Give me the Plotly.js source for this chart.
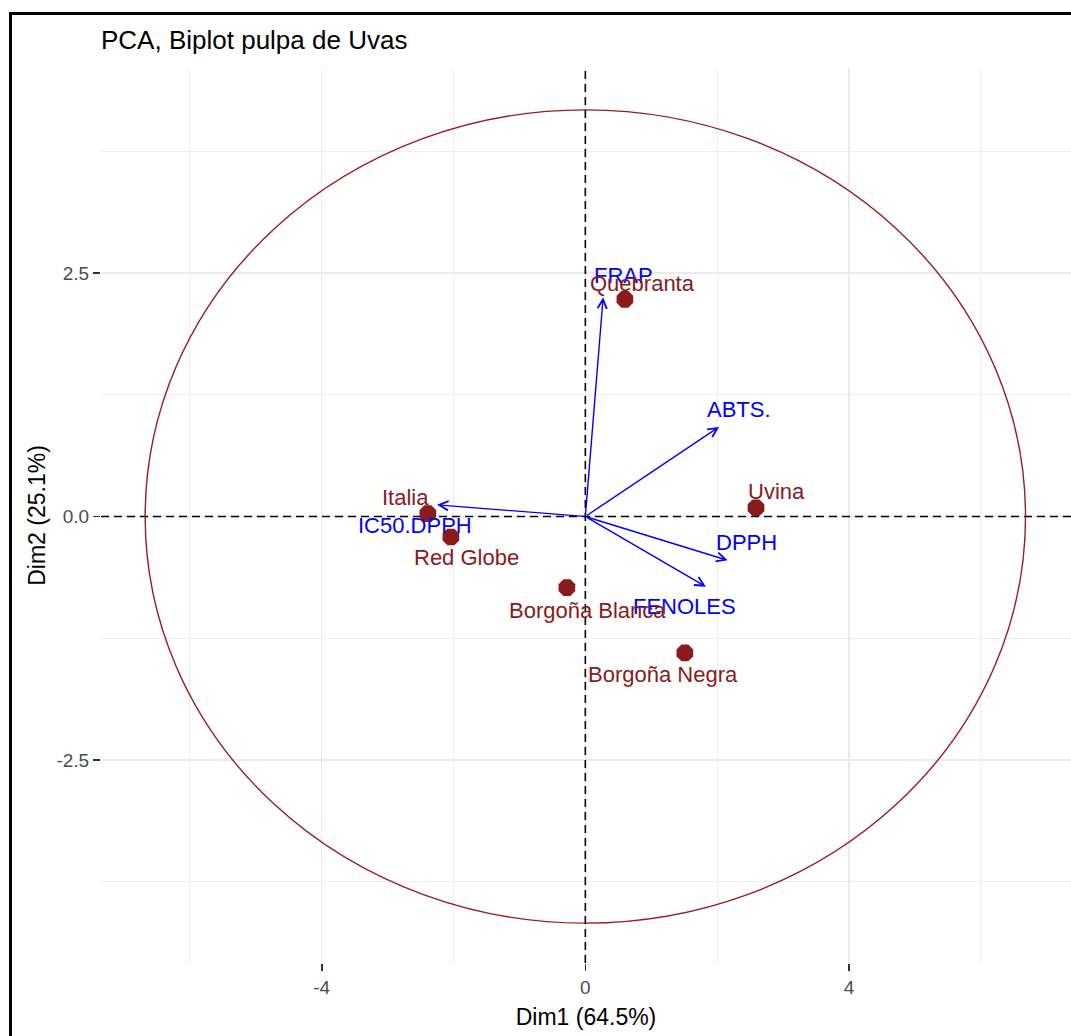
<!DOCTYPE html>
<html>
<head>
<meta charset="utf-8">
<script src="https://cdn.plot.ly/plotly-3.0.1.min.js"></script>
<style>
  html, body { margin: 0; padding: 0; background: #ffffff; }
  #wrap { position: relative; width: 1071px; height: 1036px; overflow: hidden; }
  #chart { position: absolute; left: 0; top: 0; width: 1071px; height: 1036px; }
  #frame { position: absolute; left: 9px; top: 12px; width: 1200px; height: 1200px;
           border-left: 3px solid #000; border-top: 3px solid #000; pointer-events: none; }
</style>
</head>
<body>
<div id="wrap">
  <div id="chart"></div>
  <div id="frame"></div>
</div>
<script>
// ---- Data ----
const individuals = ['Quebranta', 'Uvina', 'Italia', 'Red Globe', 'Borgoña Blanca', 'Borgoña Negra'];
const indDim1 = [0.60, 2.59, -2.39, -2.04, -0.28, 1.51];
const indDim2 = [2.23, 0.09, 0.03, -0.21, -0.73, -1.40];

const variables = ['FRAP', 'ABTS.', 'IC50.DPPH', 'DPPH', 'FENOLES'];
const varDim1 = [0.27, 2.03, -2.25, 2.16, 1.83];
const varDim2 = [2.25, 0.92, 0.12, -0.45, -0.72];

const circleRadiusDim1 = 6.68;
const circleRadiusDim2 = 4.175;

const xTickValues = [-4, 0, 4];
const yTickValues = [-2.5, 0, 2.5];
const xTickLabels = ['-4', '0', '4'];
const yTickLabels = ['-2.5', '0.0', '2.5'];

const xAxisRange = [-7.35, 7.37];
const yAxisRange = [-4.584, 4.605];

// label pixel offsets (repel-like placement)
const indLabelShift = [[18, 16], [20, 16], [-22, 16], [16, -21], [21, -23], [-22, -22]];
const varLabelShift = [[20, 22], [20, 17], [-22, -21], [19, 18], [-21, -20]];

// ---- Styles ----
const RED = '#8b1a1a';
const BLUE = '#0000ff';
const FONT = 'Liberation Sans, Arial, sans-serif';

const zeroLineStyle = { color: '#000000', width: 1.6, dash: '8px,5px' };

const traces = [
  { type: 'scatter', mode: 'lines', x: xAxisRange, y: [0, 0],
    line: zeroLineStyle, hoverinfo: 'skip', showlegend: false, cliponaxis: true },
  { type: 'scatter', mode: 'lines', x: [0, 0], y: yAxisRange,
    line: zeroLineStyle, hoverinfo: 'skip', showlegend: false, cliponaxis: true },
  {
    type: 'scatter',
    mode: 'markers',
    x: indDim1,
    y: indDim2,
    marker: { symbol: 'octagon', size: 18, color: RED, line: { width: 0 } },
    hoverinfo: 'skip',
    showlegend: false
  }
];

const annotations = [];
// variable arrows
variables.forEach((v, i) => {
  annotations.push({
    x: varDim1[i], y: varDim2[i], xref: 'x', yref: 'y',
    ax: 0, ay: 0, axref: 'x', ayref: 'y',
    text: '', showarrow: true,
    arrowhead: 5, arrowsize: 1.3, arrowwidth: 1.4, arrowcolor: BLUE,
    standoff: 0, startstandoff: 0
  });
});
// variable labels
variables.forEach((v, i) => {
  annotations.push({
    x: varDim1[i], y: varDim2[i], xref: 'x', yref: 'y',
    text: v, showarrow: false,
    xshift: varLabelShift[i][0], yshift: varLabelShift[i][1],
    font: { family: FONT, size: 22, color: BLUE }
  });
});
// individual labels
individuals.forEach((n, i) => {
  annotations.push({
    x: indDim1[i], y: indDim2[i], xref: 'x', yref: 'y',
    text: n, showarrow: false,
    xshift: indLabelShift[i][0], yshift: indLabelShift[i][1],
    font: { family: FONT, size: 22, color: RED }
  });
});

const shapes = [
  { type: 'circle', xref: 'x', yref: 'y',
    x0: -circleRadiusDim1, x1: circleRadiusDim1, y0: -circleRadiusDim2, y1: circleRadiusDim2,
    line: { color: '#9b1c1c', width: 1.4 }, layer: 'between' }
];

const layout = {
  width: 1071, height: 1036,
  margin: { l: 101, r: 0, t: 68, b: 73 },
  paper_bgcolor: '#ffffff',
  plot_bgcolor: '#ffffff',
  font: { family: FONT, color: '#000' },
  title: {
    text: 'PCA, Biplot pulpa de Uvas',
    font: { family: FONT, size: 26, color: '#000000' },
    x: 0, xref: 'paper', xanchor: 'left',
    y: 1 - 40 / 1036, yref: 'container', yanchor: 'middle'
  },
  xaxis: {
    range: xAxisRange,
    tickmode: 'array', tickvals: xTickValues, ticktext: xTickLabels,
    ticks: 'outside', ticklen: 7, tickwidth: 1.5, tickcolor: '#333333',
    tickfont: { family: FONT, size: 19, color: '#4d4d4d' },
    showgrid: true, gridcolor: '#ebebeb', gridwidth: 1.3,
    minor: { tickmode: 'linear', tick0: 0, dtick: 2, showgrid: true, gridcolor: '#efefef', gridwidth: 1, ticks: '' },
    zeroline: false, showline: false,
    title: { text: 'Dim1 (64.5%)', font: { family: FONT, size: 23, color: '#000000' }, standoff: 12 },
    automargin: false, fixedrange: true
  },
  yaxis: {
    range: yAxisRange,
    tickmode: 'array', tickvals: yTickValues, ticktext: yTickLabels,
    ticks: 'outside', ticklen: 7, tickwidth: 1.5, tickcolor: '#333333',
    tickfont: { family: FONT, size: 19, color: '#4d4d4d' },
    showgrid: true, gridcolor: '#ebebeb', gridwidth: 1.3,
    minor: { tickmode: 'linear', tick0: 0, dtick: 1.25, showgrid: true, gridcolor: '#efefef', gridwidth: 1, ticks: '' },
    zeroline: false, showline: false,
    title: { text: 'Dim2 (25.1%)', font: { family: FONT, size: 23, color: '#000000' }, standoff: 4 },
    automargin: false, fixedrange: true
  },
  shapes: shapes,
  annotations: annotations,
  showlegend: false
};

Plotly.newPlot('chart', traces, layout, { displayModeBar: false, staticPlot: true });
</script>
</body>
</html>
